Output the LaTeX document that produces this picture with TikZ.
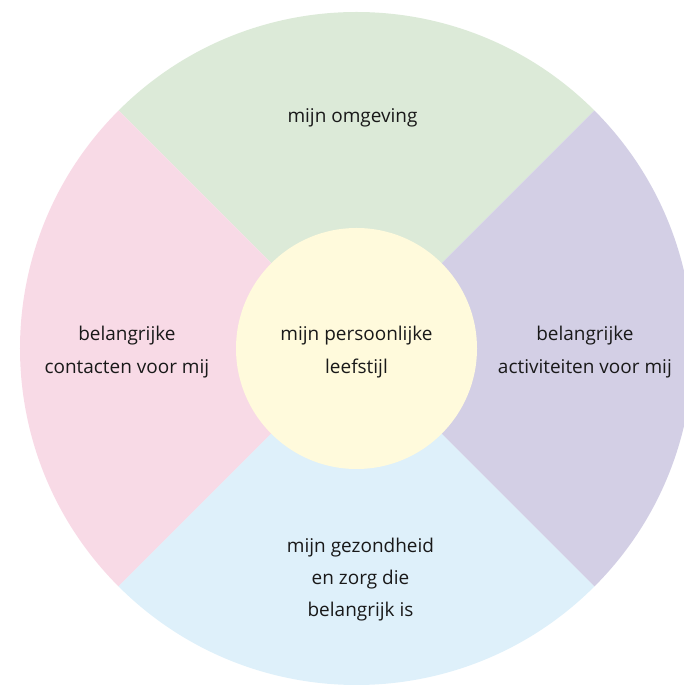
\documentclass[tikz,border=0pt]{standalone}
\usepackage{fontspec}
\setmainfont{Open Sans}
\definecolor{omggreen}{RGB}{220,234,216}
\definecolor{contpink}{RGB}{248,218,230}
\definecolor{actpurple}{RGB}{211,207,229}
\definecolor{gezblue}{RGB}{222,240,250}
\definecolor{kernyellow}{RGB}{255,250,220}
\definecolor{tekst}{RGB}{25,25,25}

\begin{document}
\begin{tikzpicture}[label/.style={align=center, text=tekst, font=\fontsize{13.5}{22.8}\selectfont},
                    kern/.style={circle, fill=kernyellow, minimum size=6.025cm, inner sep=0pt}]
      \useasboundingbox (-8.9125,-8.4125) rectangle (8.1875,8.7125);

      % the four segments of the wheel
      \fill[omggreen]  (0,0) -- (45:8.4125)  arc (45:135:8.4125)  -- cycle;
      \fill[contpink]  (0,0) -- (135:8.4125) arc (135:225:8.4125) -- cycle;
      \fill[gezblue]   (0,0) -- (225:8.4125) arc (225:315:8.4125) -- cycle;
      \fill[actpurple] (0,0) -- (315:8.4125) arc (315:405:8.4125) -- cycle;

      \node[kern] (kern) at (0,0) {};
      \node[label] (leefstijl) at (0,-0.09) {mijn persoonlijke\\leefstijl};

      \node[label] (omgeving) at (-0.1,5.77) {mijn omgeving};
      \node[label] (contacten) at (-5.74,-0.09) {belangrijke\\contacten voor mij};
      \node[label] (activiteiten) at (5.71,-0.09) {belangrijke\\activiteiten voor mij};
      \node[label] (gezondheid) at (0.1,-5.77) {mijn gezondheid\\en zorg die\\belangrijk is};
    \end{tikzpicture}
\end{document}
